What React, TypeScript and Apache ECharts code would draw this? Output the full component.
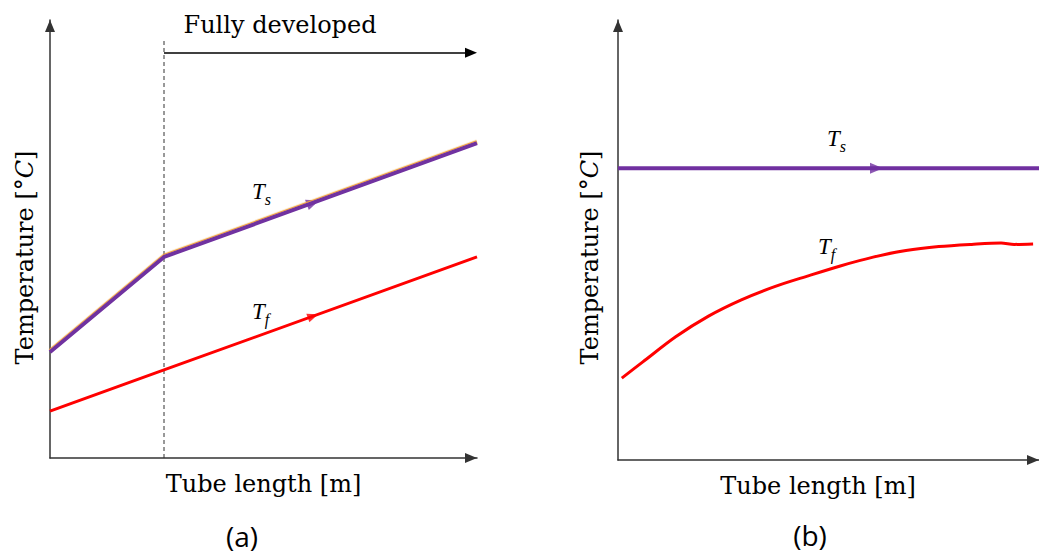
import React, { useEffect, useRef } from 'react';
import * as echarts from 'echarts';

// Panel (a): entrance region then fully developed (values in relative units 0..100)
const aTs = [[0, 24.2], [26.7, 45.9], [100, 71.9]];
const aTf = [[0, 10.7], [26.7, 20.1], [100, 45.9]];
const aDashed = [[26.7, 0], [26.7, 95.4]];
const aFullyArrow = [[26.7, 92.5], [98.6, 92.5]];
const aTsArrow = [[61.6, 58.3]];
const aTfArrow = [[61.6, 32.4]];

// Panel (b): constant surface temperature
const bTs = [[0, 66.3], [100, 66.3]];
const bTsArrow = [[61.4, 66.3]];
const bTf = [
  [0.9, 18.6], [5.9, 22.3], [13.7, 28.0], [21.5, 32.7], [29.3, 36.4], [37.2, 39.4],
  [45.0, 41.8], [52.8, 44.1], [60.6, 46.1], [68.4, 47.6], [76.2, 48.5], [84.0, 49.0],
  [91.0, 49.3], [94.1, 49.0], [98.6, 49.1],
];

const xTitle = 'Tube length [m]';
const yTitle = 'Temperature [°{i|C}]';
const topNote = 'Fully developed';
const captions = ['(a)', '(b)'];

const SERIF = "'DejaVu Serif', serif";
const ITALIC = "'Liberation Serif', 'Times New Roman', serif";
const SANS = "'Open Sans', 'Noto Sans', sans-serif";
const PURPLE = '#7030A0';
const ORANGE = '#F0A030';
const RED = '#FF0000';
const AXIS = '#333';
const INK = '#000';

const nameStyle = {
  fontFamily: SERIF,
  fontSize: 24,
  lineHeight: 24,
  color: INK,
  rich: { i: { fontFamily: SERIF, fontSize: 24, lineHeight: 24, fontStyle: 'italic', color: INK } },
};

const axisBase = (gridIndex: number) => ({
  type: 'value',
  gridIndex,
  min: 0,
  max: 100,
  axisTick: { show: false },
  axisLabel: { show: false },
  splitLine: { show: false },
  axisLine: {
    show: true,
    symbol: ['none', 'triangle'],
    symbolSize: [10, 12],
    symbolOffset: [0, -6],
    lineStyle: { color: AXIS, width: 1.5 },
  },
});

const labelRich = {
  t: { fontFamily: ITALIC, fontStyle: 'italic', fontSize: 23, lineHeight: 22, verticalAlign: 'top', color: INK },
  s: { fontFamily: ITALIC, fontStyle: 'italic', fontSize: 16, lineHeight: 15, padding: [11, 0, 0, 0], verticalAlign: 'top', color: INK },
};

const labelText = (x: number, y: number, sub: string) => ({
  type: 'text',
  x,
  y,
  style: { text: '{t|T}{s|' + sub + '}', rich: labelRich, align: 'left', verticalAlign: 'top' },
});

export default function App() {
  const ref = useRef<HTMLDivElement>(null);
  useEffect(() => {
    if (!ref.current) return;
    const chart = echarts.init(ref.current, null, { renderer: 'svg' });
    chart.setOption({
      animation: false,
      backgroundColor: '#fff',
      grid: [
        { left: 50, top: 20, width: 427, height: 438 },
        { left: 618, top: 20, width: 427, height: 440 },
      ],
      xAxis: [
        { ...axisBase(0), name: xTitle, nameLocation: 'middle', nameGap: 14, nameTextStyle: { ...nameStyle } },
        { ...axisBase(1), name: xTitle, nameLocation: 'middle', nameGap: 14, nameTextStyle: { ...nameStyle, padding: [0, 21, 0, 0] } },
      ],
      yAxis: [
        { ...axisBase(0), name: yTitle, nameLocation: 'middle', nameGap: 13, nameTextStyle: { ...nameStyle, padding: [0, 37, 0, 0] } },
        { ...axisBase(1), name: yTitle, nameLocation: 'middle', nameGap: 16, nameTextStyle: { ...nameStyle, padding: [0, 35, 0, 0] } },
      ],
      series: [
        {
          name: 'dashed',
          type: 'line',
          xAxisIndex: 0,
          yAxisIndex: 0,
          data: aDashed,
          symbol: 'none',
          silent: true,
          lineStyle: { color: '#333', width: 1, type: [4, 3] },
          markLine: {
            silent: true,
            symbol: ['none', 'triangle'],
            symbolSize: [10, 12],
            label: { show: false },
            lineStyle: { type: 'solid', color: '#000', width: 1.5 },
            data: [[{ coord: aFullyArrow[0] }, { coord: aFullyArrow[1] }]],
          },
        },
        {
          name: 'Ts (a)', type: 'line', xAxisIndex: 0, yAxisIndex: 0, data: aTs, symbol: 'none',
          clip: false,
          lineStyle: { color: PURPLE, width: 4, shadowColor: ORANGE, shadowOffsetY: -1.2, shadowBlur: 0.5 },
        },
        {
          name: 'Tf (a)', type: 'line', xAxisIndex: 0, yAxisIndex: 0, data: aTf, symbol: 'none',
          clip: false, lineStyle: { color: RED, width: 3 },
        },
        {
          name: 'Ts arrow (a)', type: 'scatter', xAxisIndex: 0, yAxisIndex: 0, data: aTsArrow,
          symbol: 'triangle', symbolSize: [11, 13], symbolRotate: -70, itemStyle: { color: PURPLE },
        },
        {
          name: 'Tf arrow (a)', type: 'scatter', xAxisIndex: 0, yAxisIndex: 0, data: aTfArrow,
          symbol: 'triangle', symbolSize: [9, 11], symbolRotate: -70, itemStyle: { color: RED },
        },
        {
          name: 'Ts (b)', type: 'line', xAxisIndex: 1, yAxisIndex: 1, data: bTs, symbol: 'none',
          clip: false, lineStyle: { color: PURPLE, width: 4 },
        },
        {
          name: 'Tf (b)', type: 'line', xAxisIndex: 1, yAxisIndex: 1, data: bTf, symbol: 'none',
          smooth: 0.3, clip: false, lineStyle: { color: RED, width: 3 },
        },
        {
          name: 'Ts arrow (b)', type: 'scatter', xAxisIndex: 1, yAxisIndex: 1, data: bTsArrow,
          symbol: 'triangle', symbolSize: [11, 13], symbolRotate: -90, itemStyle: { color: PURPLE },
        },
      ],
      graphic: [
        {
          type: 'text', x: 280, y: 25,
          style: { text: topNote, fontFamily: SERIF, fontSize: 24, fill: INK, align: 'center', verticalAlign: 'middle' },
        },
        labelText(252, 180, 's'),
        labelText(252, 300, 'f'),
        labelText(827, 127, 's'),
        labelText(818, 235, 'f'),
        {
          type: 'text', x: 242, y: 536,
          style: { text: captions[0], fontFamily: SANS, fontSize: 28, lineHeight: 30, fill: INK, align: 'center', verticalAlign: 'middle' },
        },
        {
          type: 'text', x: 810, y: 535,
          style: { text: captions[1], fontFamily: SANS, fontSize: 28, lineHeight: 30, fill: INK, align: 'center', verticalAlign: 'middle' },
        },
      ],
    });
    return () => chart.dispose();
  }, []);
  return (
    <div
      ref={ref}
      style={{ position: 'absolute', left: 0, top: 0, width: 1039, height: 555, background: '#fff' }}
    />
  );
}
